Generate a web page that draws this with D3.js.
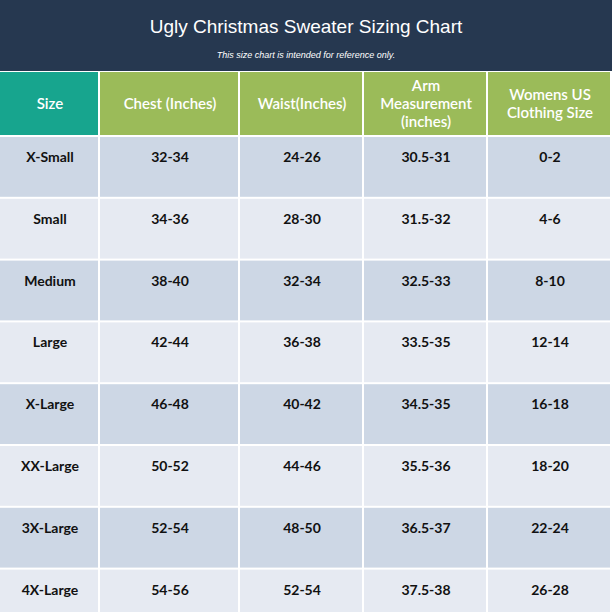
<!DOCTYPE html>
<html><head><meta charset="utf-8">
<script src="https://cdn.jsdelivr.net/npm/d3@7"></script>
<style>body{margin:0;background:#fff}</style>
</head><body>
<script>
const columns = ["Size", "Chest (Inches)", "Waist(Inches)", "Arm\nMeasurement\n(inches)", "Womens US\nClothing Size"]
const sizes = ["X-Small", "Small", "Medium", "Large", "X-Large", "XX-Large", "3X-Large", "4X-Large"]
const chest = ["32-34", "34-36", "38-40", "42-44", "46-48", "50-52", "52-54", "54-56"]
const waist = ["24-26", "28-30", "32-34", "36-38", "40-42", "44-46", "48-50", "52-54"]
const arm = ["30.5-31", "31.5-32", "32.5-33", "33.5-35", "34.5-35", "35.5-36", "36.5-37", "37.5-38"]
const womens = ["0-2", "4-6", "8-10", "12-14", "16-18", "18-20", "22-24", "26-28"]

const W = 612, H = 612
const svg = d3.select("body").append("svg").attr("width", W).attr("height", H)
  .style("font-family", "Lato, sans-serif")

// title band
svg.append("rect").attr("width", W).attr("height", 71).attr("fill", "#263850")
svg.append("text").attr("x", W/2).attr("y", 33).attr("text-anchor", "middle")
  .attr("fill", "#fff").attr("font-size", 19).attr("font-family", "Liberation Sans, Arial")
  .text("Ugly Christmas Sweater Sizing Chart")
svg.append("text").attr("x", W/2).attr("y", 58).attr("text-anchor", "middle")
  .attr("fill", "#fff").attr("font-size", 9).attr("font-style", "italic").attr("font-family", "Liberation Sans, Arial")
  .text("This size chart is intended for reference only.")

const colEdges = [0, 100, 240, 364, 488, 612]
const x = d3.scaleBand().domain(d3.range(5)).range([0, W])
const colX = i => colEdges[i], colW = i => colEdges[i+1] - colEdges[i]
const y = d3.scaleLinear().domain([0, 8]).range([137, 137 + 8 * 61.8])

const rows = sizes.map((s, i) => [s, chest[i], waist[i], arm[i], womens[i]])

// header row
const head = svg.append("g")
columns.forEach((c, i) => {
  head.append("rect").attr("x", colX(i)).attr("y", 72).attr("width", colW(i) - 2).attr("height", 63)
    .attr("fill", i === 0 ? "#17a58e" : "#9bbb59")
  const lines = c.split("\n")
  const t = head.append("text").attr("text-anchor", "middle").attr("fill", "#fff")
    .attr("font-size", 15).attr("font-weight", 600)
  lines.forEach((l, k) => t.append("tspan").attr("x", colX(i) + colW(i) / 2)
    .attr("y", 104 + 5 + (k - (lines.length - 1) / 2) * 18).text(l))
})

// body
rows.forEach((r, ri) => {
  r.forEach((v, ci) => {
    svg.append("rect").attr("x", colX(ci)).attr("y", y(ri)).attr("width", colW(ci) - 2)
      .attr("height", y(ri + 1) - y(ri) - 2)
      .attr("fill", ri % 2 === 0 ? "#cdd7e5" : "#e6eaf2")
    svg.append("text").attr("x", colX(ci) + colW(ci) / 2).attr("y", y(ri) + 25)
      .attr("text-anchor", "middle").attr("font-size", 14).attr("font-weight", 700)
      .attr("fill", "#111").text(v)
  })
})
</script>
</body></html>
